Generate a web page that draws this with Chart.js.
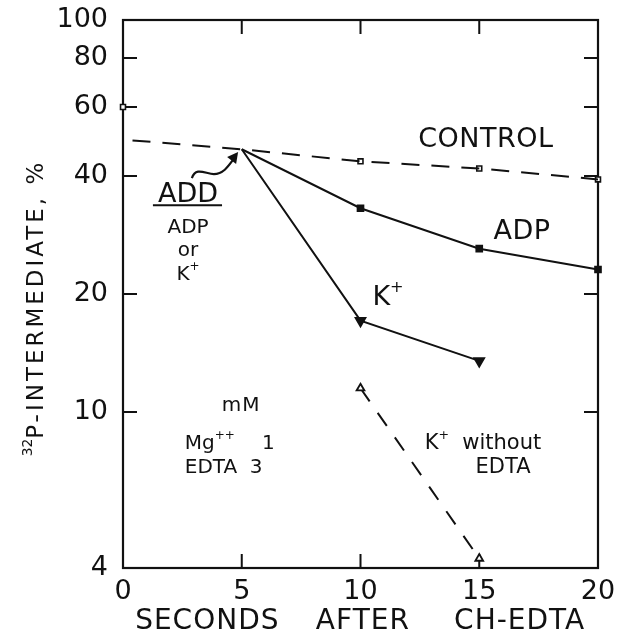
<!DOCTYPE html>
<html>
<head>
<meta charset="utf-8">
<script src="https://cdn.jsdelivr.net/npm/chart.js@4.4.0/dist/chart.umd.min.js"></script>
<style>
  html, body { margin: 0; padding: 0; background: #fff; }
  #wrap { width: 617px; height: 637px; }
</style>
</head>
<body>
<div id="wrap"><canvas id="chart"></canvas></div>
<script>
// values (seconds after CH-EDTA, % 32P-intermediate)
const xTicks = [0, 5, 10, 15, 20];
const yTicks = [4, 10, 20, 40, 60, 80, 100];

const controlX = [0, 10, 15, 20];
const controlY = [60, 43.6, 41.8, 39.2];
const controlFitX = [0.4, 5, 10, 15, 20];
const controlFitY = [49.3, 46.8, 43.6, 41.8, 39.2];
const adpX = [5, 10, 15, 20];
const adpY = [46.8, 33.1, 26.1, 23.1];
const kX = [5, 10, 15];
const kY = [46.8, 17.1, 13.5];
const kNoEdtaX = [10, 15];
const kNoEdtaY = [11.5, 4.23];

const FONT = '"DejaVu Sans", sans-serif';
const INK = "#111";

const pts = (xs, ys) => xs.map((x, i) => ({ x, y: ys[i] }));

// text drawn with superscripts: parts = [[text, isSup], ...]
function rich(ctx, parts, x, y, size, align, spacing) {
  ctx.save();
  const widths = parts.map(([t, sup]) => {
    ctx.letterSpacing = (sup ? 0 : spacing || 0) + "px";
    ctx.font = `${sup ? size * 0.6 : size}px ${FONT}`;
    return ctx.measureText(t).width;
  });
  const total = widths.reduce((a, b) => a + b, 0);
  let cx = align === "center" ? x - total / 2 : align === "right" ? x - total : x;
  ctx.textAlign = "left";
  ctx.textBaseline = "middle";
  parts.forEach(([t, sup], i) => {
    ctx.letterSpacing = (sup ? 0 : spacing || 0) + "px";
    ctx.font = `${sup ? size * 0.6 : size}px ${FONT}`;
    ctx.fillText(t, cx, sup ? y - size * 0.38 : y);
    cx += widths[i];
  });
  ctx.restore();
}

const framePlugin = {
  id: "frame",
  beforeDatasetsDraw(chart) {
    const { ctx, chartArea: a, scales } = chart;
    const xs = scales.x, ys = scales.y;
    ctx.save();
    ctx.strokeStyle = INK;
    ctx.lineWidth = 2.2;
    ctx.strokeRect(a.left, a.top, a.right - a.left, a.bottom - a.top);
    ctx.lineWidth = 2;
    const tl = 14;
    ctx.beginPath();
    xTicks.slice(1, -1).forEach((v) => {
      const px = xs.getPixelForValue(v);
      ctx.moveTo(px, a.bottom); ctx.lineTo(px, a.bottom - tl);
      ctx.moveTo(px, a.top); ctx.lineTo(px, a.top + tl);
    });
    yTicks.slice(1, -1).forEach((v) => {
      const py = ys.getPixelForValue(v);
      ctx.moveTo(a.left, py); ctx.lineTo(a.left + tl, py);
      ctx.moveTo(a.right, py); ctx.lineTo(a.right - tl, py);
    });
    ctx.stroke();
    ctx.restore();
  },
  afterDatasetsDraw(chart) {
    const { ctx, scales } = chart;
    const X = (v) => scales.x.getPixelForValue(v);
    const Y = (v) => scales.y.getPixelForValue(v);
    ctx.save();
    ctx.fillStyle = INK;
    ctx.strokeStyle = INK;

    rich(ctx, [["CONTROL", false]], X(15.28), Y(49.4), 27, "center", 0.5);
    rich(ctx, [["ADP", false]], X(16.8), Y(28.8), 27, "center", 0.5);
    rich(ctx, [["K", false], ["+", true]], X(10.5), Y(19.5), 27, "left");

    // ADD ... ADP or K+
    rich(ctx, [["ADD", false]], X(2.74), Y(35.8), 27, "center");
    ctx.lineWidth = 2;
    ctx.beginPath();
    ctx.moveTo(X(1.26), Y(33.7)); ctx.lineTo(X(4.17), Y(33.7));
    ctx.stroke();
    rich(ctx, [["ADP", false]], X(2.74), Y(29.5), 20, "center");
    rich(ctx, [["or", false]], X(2.74), Y(25.8), 20, "center");
    rich(ctx, [["K", false], ["+", true]], X(2.74), Y(22.4), 20, "center");

    // wavy arrow pointing to the addition point
    const sx = X(2.9), sy = Y(39.5), ex = X(4.72), ey = Y(44.7);
    ctx.lineWidth = 2.2;
    ctx.beginPath();
    ctx.moveTo(sx, sy);
    ctx.bezierCurveTo(sx + 4, sy - 12, sx + 14, sy - 4, sx + 22, sy - 4);
    ctx.bezierCurveTo(sx + 32, sy - 4, ex - 6, ey + 8, ex, ey);
    ctx.stroke();
    ctx.beginPath();
    ctx.moveTo(ex + 3, ey - 5);
    ctx.lineTo(ex - 8, ey + 0);
    ctx.lineTo(ex + 1, ey + 7);
    ctx.closePath();
    ctx.fill();

    // conditions
    rich(ctx, [["mM", false]], X(4.97), Y(10.35), 20, "center", 1);
    rich(ctx, [["Mg", false], ["++", true]], X(2.6), Y(8.3), 20, "left");
    rich(ctx, [["1", false]], X(5.85), Y(8.3), 20, "left");
    rich(ctx, [["EDTA  3", false]], X(2.6), Y(7.2), 20, "left");
    rich(ctx, [["K", false], ["+", true], ["  without", false]], X(12.7), Y(8.3), 21, "left");
    rich(ctx, [["EDTA", false]], X(16.0), Y(7.2), 21, "center");

    // axis titles
    ctx.font = `28px ${FONT}`;
    ctx.textAlign = "center";
    ctx.textBaseline = "middle";
    ctx.letterSpacing = "1px";
    const ty = 622;
    ctx.fillText("SECONDS", X(3.55), ty);
    ctx.fillText("AFTER", X(10.1), ty);
    ctx.fillText("CH-EDTA", X(16.7), ty);

    ctx.save();
    ctx.translate(37, 308);
    ctx.rotate(-Math.PI / 2);
    rich(ctx, [["32", true], ["P-INTERMEDIATE, %", false]], 0, 0, 23, "center", 3);
    ctx.restore();

    ctx.restore();
  },
};

new Chart(document.getElementById("chart"), {
  type: "scatter",
  data: {
    datasets: [
      {
        label: "Control fit",
        data: pts(controlFitX, controlFitY),
        showLine: true,
        borderColor: INK,
        borderWidth: 2,
        borderDash: [18, 12],
        pointRadius: 0,
      },
      {
        label: "Control",
        data: pts(controlX, controlY),
        showLine: false,
        pointStyle: "rect",
        pointRadius: 3.5,
        borderColor: INK,
        borderWidth: 1.6,
        backgroundColor: "#fff",
      },
      {
        label: "ADP",
        data: pts(adpX, adpY),
        showLine: true,
        borderColor: INK,
        borderWidth: 2,
        pointStyle: "rect",
        pointRadius: [0, 4, 4, 4],
        backgroundColor: INK,
      },
      {
        label: "K+",
        data: pts(kX, kY),
        showLine: true,
        borderColor: INK,
        borderWidth: 2,
        pointStyle: "triangle",
        rotation: 180,
        pointRadius: [0, 5.5, 5.5],
        backgroundColor: INK,
      },
      {
        label: "K+ without EDTA",
        data: pts(kNoEdtaX, kNoEdtaY),
        showLine: true,
        borderColor: INK,
        borderWidth: 2,
        borderDash: [16, 14],
        pointStyle: "triangle",
        pointRadius: 4.5,
        pointBorderWidth: 1.8,
        backgroundColor: "#fff",
      },
    ],
  },
  options: {
    responsive: true,
    maintainAspectRatio: false,
    animation: false,
    clip: false,
    layout: { padding: { top: 20, right: 19, left: 0, bottom: 0 } },
    plugins: { legend: { display: false }, tooltip: { enabled: false } },
    scales: {
      x: {
        type: "linear",
        min: 0,
        max: 20,
        afterBuildTicks: (s) => { s.ticks = xTicks.map((v) => ({ value: v })); },
        afterFit: (s) => { s.height = 69; s.paddingLeft = 0; s.paddingRight = 0; },
        ticks: { color: INK, font: { family: FONT, size: 27 }, padding: 8, maxRotation: 0 },
        grid: { display: false, drawTicks: false },
        border: { display: false },
      },
      y: {
        type: "logarithmic",
        min: 4,
        max: 100,
        afterBuildTicks: (s) => { s.ticks = yTicks.map((v) => ({ value: v })); },
        afterFit: (s) => { s.width = 123; s.paddingTop = 0; s.paddingBottom = 0; },
        ticks: { color: INK, font: { family: FONT, size: 27 }, padding: 15, callback: (v) => String(v) },
        grid: { display: false, drawTicks: false },
        border: { display: false },
      },
    },
  },
  plugins: [framePlugin],
});
</script>
</body>
</html>
